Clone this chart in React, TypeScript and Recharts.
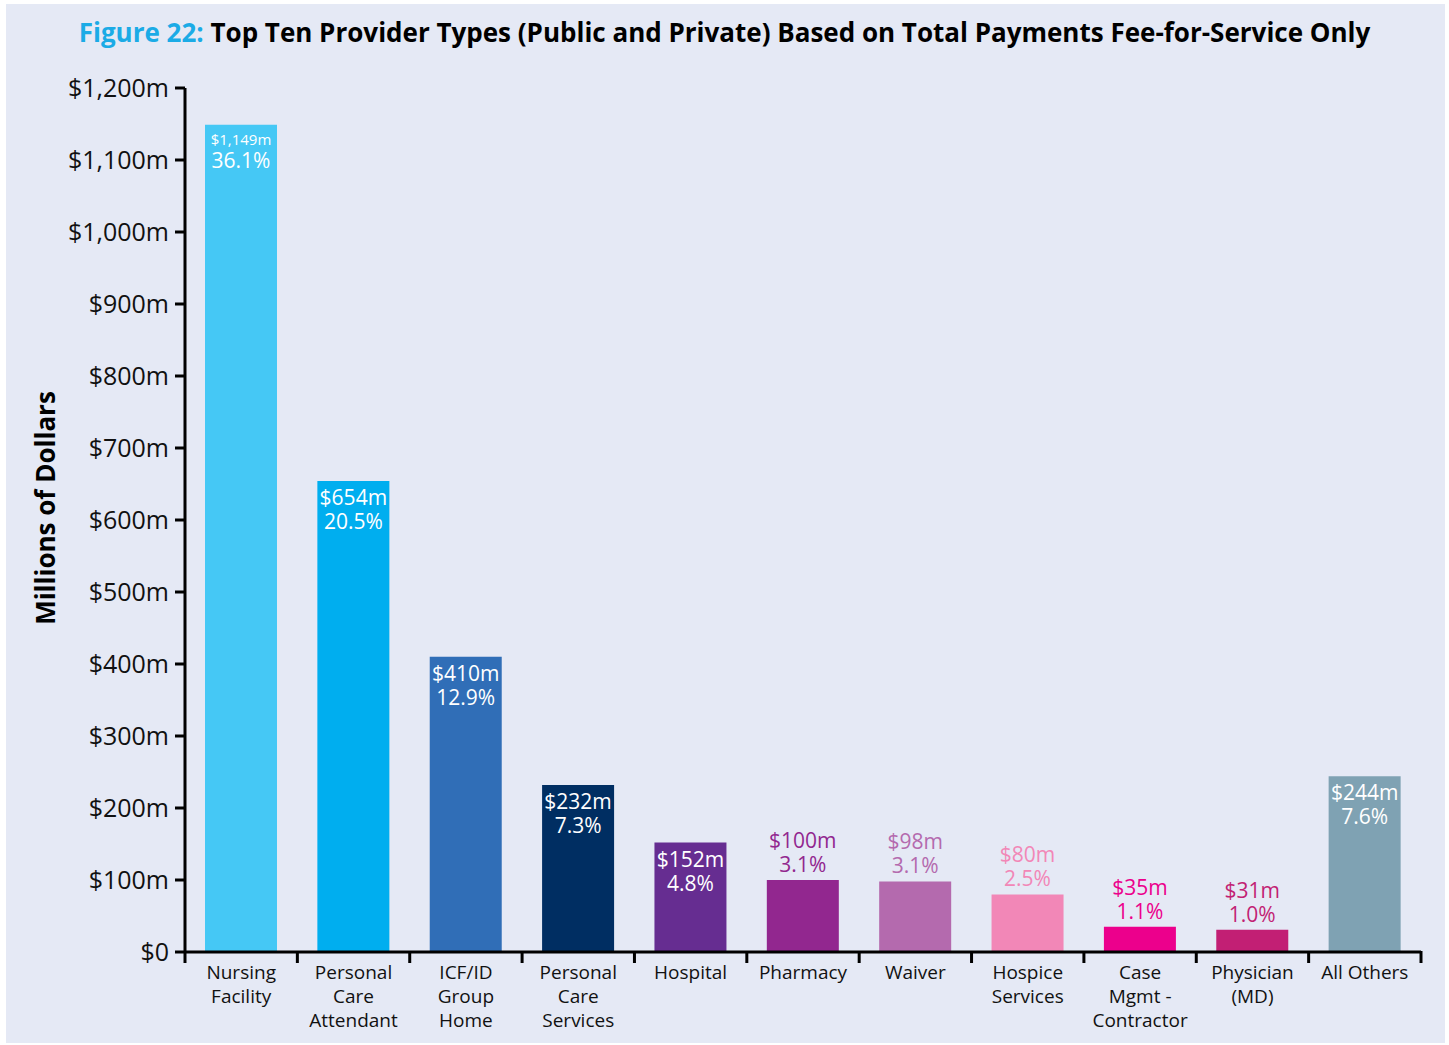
import React from "react";
import { BarChart, Bar, XAxis, YAxis, Cell, LabelList } from "recharts";

const categories = [
  "Nursing\nFacility",
  "Personal\nCare\nAttendant",
  "ICF/ID\nGroup\nHome",
  "Personal\nCare\nServices",
  "Hospital",
  "Pharmacy",
  "Waiver",
  "Hospice\nServices",
  "Case\nMgmt -\nContractor",
  "Physician\n(MD)",
  "All Others",
];
const payments = [1149, 654, 410, 232, 152, 100, 98, 80, 35, 31, 244];
const shares = ["36.1%", "20.5%", "12.9%", "7.3%", "4.8%", "3.1%", "3.1%", "2.5%", "1.1%", "1.0%", "7.6%"];
const colors = ["#45C8F5", "#00AEEF", "#306EB7", "#002E62", "#662D91", "#92278F", "#B46AAE", "#F287B7", "#EC008C", "#C21F74", "#7FA2B3"];
const labelInside = [true, true, true, true, true, false, false, false, false, false, true];
const yTicks = [0, 100, 200, 300, 400, 500, 600, 700, 800, 900, 1000, 1100, 1200];

const data = categories.map((c, i) => ({ name: c, value: payments[i], share: shares[i] }));

const FONT = "'Open Sans', sans-serif";
const W = 1449;
const H = 1045;
const M = { top: 88, right: 28, left: 65, bottom: 33 };
const Y_W = 120;
const X_H = 60;
const bandWidth = (W - M.left - Y_W - M.right) / categories.length;

const fmtY = (v: number) => (v === 0 ? "$0" : "$" + v.toLocaleString("en-US") + "m");

const XTick = (props: any) => {
  const { x, y, payload, index } = props;
  const lines = String(payload.value).split("\n");
  const half = bandWidth / 2;
  return (
    <g>
      <line x1={x - half} x2={x - half} y1={y - 9} y2={y + 3} stroke="#000" strokeWidth={3} />
      {index === categories.length - 1 && (
        <line x1={x + half} x2={x + half} y1={y - 9} y2={y + 3} stroke="#000" strokeWidth={3} />
      )}
      <text x={x} y={y + 19} textAnchor="middle" fontSize={19} fill="#111" fontFamily={FONT}>
        {lines.map((l, i) => (
          <tspan key={i} x={x} dy={i === 0 ? 0 : 24}>
            {l}
          </tspan>
        ))}
      </text>
    </g>
  );
};

const BarLabel = (props: any) => {
  const { x, y, width, index } = props;
  const cx = x + width / 2;
  const inside = labelInside[index];
  const fill = inside ? "#fff" : colors[index];
  const small = index === 0;
  const y1 = inside ? y + (small ? 20 : 24) : y - 32;
  return (
    <text x={cx} y={y1} textAnchor="middle" fill={fill} fontFamily={FONT} fontSize={21}>
      <tspan x={cx} fontSize={small ? 15 : 21}>
        {"$" + payments[index].toLocaleString("en-US") + "m"}
      </tspan>
      <tspan x={cx} dy={small ? 23 : 24}>
        {shares[index]}
      </tspan>
    </text>
  );
};

export default function App() {
  return (
    <div style={{ position: "absolute", left: 0, top: 0, width: W, height: H, background: "#fff", fontFamily: FONT }}>
      <div style={{ position: "absolute", left: 6, top: 4, width: W - 10, height: H - 6, background: "#E5E9F5" }} />
      <div
        style={{
          position: "absolute",
          left: 0,
          top: 14,
          width: W,
          textAlign: "center",
          fontWeight: 700,
          fontSize: 26,
          lineHeight: "36px",
          color: "#000",
          whiteSpace: "nowrap",
        }}
      >
        <span style={{ color: "#1BABE6" }}>Figure 22:</span> Top Ten Provider Types (Public and Private) Based on Total Payments Fee-for-Service Only
      </div>
      <div style={{ position: "absolute", left: 0, top: 0 }}>
        <BarChart width={W} height={H} data={data} margin={M}>
          <XAxis
            dataKey="name"
            interval={0}
            height={X_H}
            axisLine={{ stroke: "#000", strokeWidth: 3 }}
            tickLine={false}
            tick={<XTick />}
          />
          <YAxis
            width={Y_W}
            domain={[0, 1200]}
            ticks={yTicks}
            interval={0}
            tickFormatter={fmtY}
            axisLine={{ stroke: "#000", strokeWidth: 3 }}
            tickLine={{ stroke: "#000", strokeWidth: 3 }}
            tickSize={10}
            tickMargin={6}
            tick={{ fontSize: 25, fill: "#111", fontFamily: FONT }}
            label={() => {
              const cx = 45;
              const cy = 508;
              return (
                <text x={cx} y={cy} transform={`rotate(-90 ${cx} ${cy})`} textAnchor="middle" dominantBaseline="central" fontSize={26} fontWeight={700} fill="#000" fontFamily={FONT}>
                  Millions of Dollars
                </text>
              );
            }}
          />
          <Bar dataKey="value" barSize={72} isAnimationActive={false}>
            {data.map((d, i) => (
              <Cell key={i} fill={colors[i]} />
            ))}
            <LabelList dataKey="value" content={<BarLabel />} />
          </Bar>
        </BarChart>
      </div>
    </div>
  );
}
